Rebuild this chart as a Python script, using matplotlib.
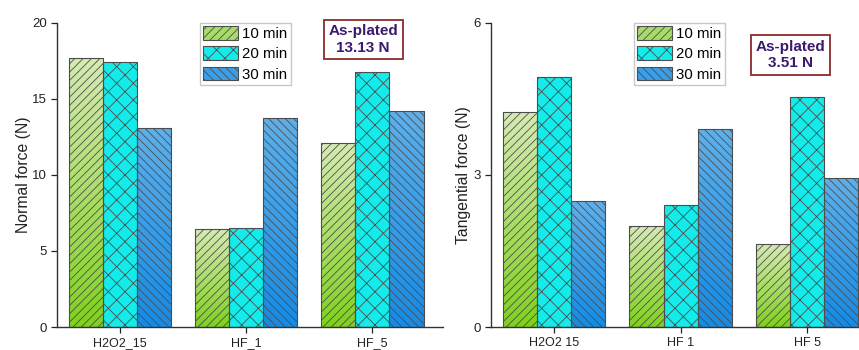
import numpy as np
import matplotlib
matplotlib.use("Agg")
import matplotlib.pyplot as plt
from matplotlib.colors import LinearSegmentedColormap
from matplotlib.patches import Patch

plt.rcParams['font.family'] = ['Liberation Sans', 'DejaVu Sans']
plt.rcParams['hatch.linewidth'] = 0.6

# Treatment groups and immersion times
groups_left = ["H2O2_15", "HF_1", "HF_5"]
groups_right = ["H2O2 15", "HF 1", "HF 5"]
times = ["10 min", "20 min", "30 min"]

# Normal force (N) per group, one list per immersion time
normal_10 = [17.66, 6.43, 12.12]
normal_20 = [17.44, 6.48, 16.74]
normal_30 = [13.11, 13.72, 14.22]

# Tangential force (N)
tang_10 = [4.24, 2.00, 1.64]
tang_20 = [4.94, 2.40, 4.54]
tang_30 = [2.48, 3.91, 2.93]

asplated_normal = 13.13
asplated_tang = 3.51

# Fill style per series: (top colour, bottom colour, hatch)
styles = [
    ("#d6eab4", "#7fd21c", "////"),
    ("#14ecec", "#14ecec", "xx"),
    ("#5fb0ea", "#148be6", "\\\\\\\\"),
]
legend_colors = ["#a8dc68", "#14ecec", "#3a9ee8"]
edge = "#4d4d4d"


def gradient_bars(ax, values_by_series, width=0.27):
    x = np.arange(len(values_by_series[0]))
    for i, vals in enumerate(values_by_series):
        top, bottom, hatch = styles[i]
        cmap = LinearSegmentedColormap.from_list(f"g{i}", [bottom, top])
        offs = (i - 1) * width
        bars = ax.bar(x + offs, vals, width, facecolor="none", edgecolor=edge,
                      hatch=hatch, linewidth=0.8, zorder=3)
        for b in bars:
            x0, y0 = b.get_x(), b.get_y()
            w, h = b.get_width(), b.get_height()
            grad = np.linspace(0, 1, 256).reshape(-1, 1)
            im = ax.imshow(grad, cmap=cmap, origin="lower", aspect="auto",
                           extent=(x0, x0 + w, y0, y0 + h), zorder=2,
                           interpolation="bilinear")
            im.set_clip_path(b)
    return x


def style_axes(ax, x, labels, ymax, yticks, ylabel):
    ax.set_ylim(0, ymax)
    ax.set_yticks(yticks)
    ax.set_xticks(x)
    ax.set_xticklabels(labels, fontsize=9)
    ax.tick_params(axis="y", labelsize=9.5, direction="out", length=4, width=0.9, colors="#222222")
    ax.tick_params(axis="x", direction="out", length=4, width=0.9, colors="#222222")
    for s in ("top", "right"):
        ax.spines[s].set_visible(False)
    for s in ("left", "bottom"):
        ax.spines[s].set_linewidth(1.0)
        ax.spines[s].set_color("#333333")
    ax.set_ylabel(ylabel, fontsize=11.3, color="#222222")


def add_legend(ax, xa):
    handles = [Patch(facecolor=legend_colors[i], edgecolor=edge, hatch=styles[i][2],
                     linewidth=0.8) for i in range(3)]
    leg = ax.legend(handles, times, loc="upper left", bbox_to_anchor=(xa, 1.0),
                    borderaxespad=0, fontsize=10.8, frameon=True, fancybox=False,
                    framealpha=1, edgecolor="#c8c8c8", handlelength=2.3,
                    handleheight=1.0, handletextpad=0.3, labelspacing=0.36,
                    borderpad=0.22)
    leg.get_frame().set_linewidth(1.0)


def add_box(ax, xa, ya, value):
    ax.text(xa, ya, f"As-plated\n{value:.2f} N", transform=ax.transAxes,
            ha="center", va="center", fontsize=11, fontweight="bold",
            color="#3b1a6e", linespacing=1.2,
            bbox=dict(boxstyle="square,pad=0.3", facecolor="white",
                      edgecolor="#8a2b2b", linewidth=1.3))


fig = plt.figure(figsize=(8.59, 3.5), dpi=100)
ax1 = fig.add_axes([0.0664, 0.0657, 0.4494, 0.869])
ax2 = fig.add_axes([0.5716, 0.0657, 0.4284, 0.869])

x1 = gradient_bars(ax1, [normal_10, normal_20, normal_30])
style_axes(ax1, x1, groups_left, 20, [0, 5, 10, 15, 20], "Normal force (N)")
ax1.set_xlim(-0.5, 2.56)
add_legend(ax1, 0.370)
add_box(ax1, 0.793, 0.945, asplated_normal)

x2 = gradient_bars(ax2, [tang_10, tang_20, tang_30])
style_axes(ax2, x2, groups_right, 6, [0, 3, 6], "Tangential force (N)")
ax2.set_xlim(-0.5, 2.41)
add_legend(ax2, 0.389)
add_box(ax2, 0.815, 0.894, asplated_tang)

ax1.yaxis.set_label_coords(-0.068, 0.5)
ax2.yaxis.set_label_coords(-0.055, 0.5)

fig.savefig("out.png", dpi=100)
